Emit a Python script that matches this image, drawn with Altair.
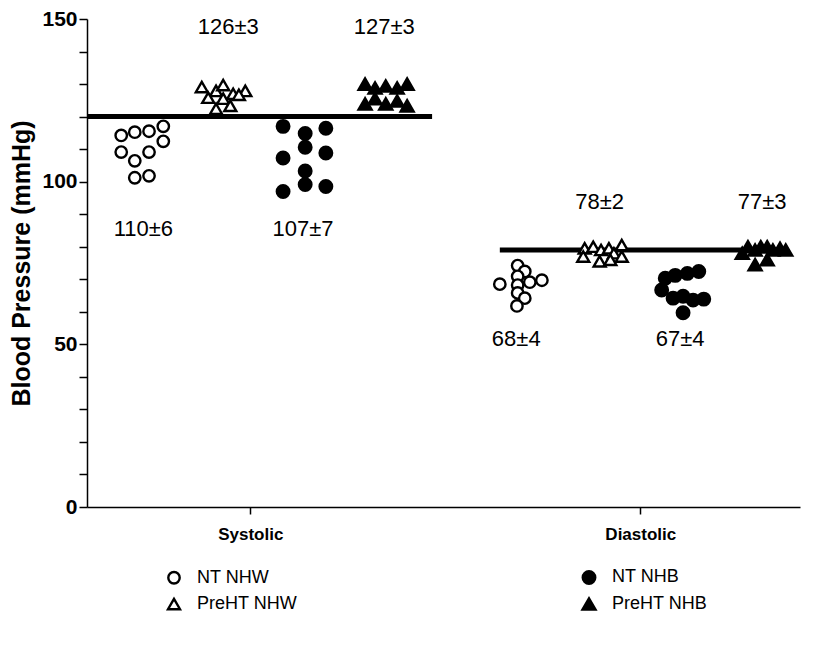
import altair as alt
import pandas as pd

FONT = "Liberation Sans"

# ---- data ----
groups = ["NT NHW", "PreHT NHW", "NT NHB", "PreHT NHB"]

# Systolic
sys_nt_nhw_x = [0.48, 0.67, 0.87, 1.07, 0.48, 0.67, 0.87, 1.07, 0.67, 0.87]
sys_nt_nhw_y = [114.2, 115.2, 115.5, 117.0, 109.1, 106.4, 109.1, 112.4, 101.2, 101.8]
sys_pre_nhw_x = [1.61, 1.81, 1.91, 2.05, 2.22, 1.70, 1.91, 2.13, 2.01, 1.81]
sys_pre_nhw_y = [129.1, 127.9, 129.7, 127.0, 127.9, 125.8, 125.5, 126.7, 123.3, 122.4]
sys_nt_nhb_x = [2.75, 3.06, 3.35, 3.06, 3.35, 2.75, 3.06, 2.75, 3.06, 3.35]
sys_nt_nhb_y = [117.0, 114.8, 116.4, 110.6, 108.8, 107.3, 103.3, 97.0, 99.1, 98.5]
sys_pre_nhb_x = [3.90, 4.04, 4.19, 4.35, 4.49, 3.90, 4.04, 4.19, 4.35, 4.49]
sys_pre_nhb_y = [130.0, 128.8, 129.4, 128.8, 130.0, 123.9, 125.5, 123.9, 124.8, 123.3]

# Diastolic
dia_nt_nhw_x = [6.04, 6.14, 6.04, 5.79, 6.04, 6.21, 6.38, 6.04, 6.14, 6.03]
dia_nt_nhw_y = [74.2, 72.4, 70.9, 68.5, 68.2, 69.1, 69.7, 65.8, 64.2, 61.8]
dia_pre_nhw_x = [6.98, 7.10, 7.21, 7.32, 7.39, 7.50, 7.19, 7.34, 7.50, 6.96]
dia_pre_nhw_y = [79.5, 80.0, 79.0, 79.5, 78.0, 80.5, 75.5, 76.0, 77.0, 77.0]
dia_nt_nhb_x = [8.11, 8.25, 8.42, 8.58, 8.06, 8.22, 8.36, 8.50, 8.65, 8.36]
dia_nt_nhb_y = [70.3, 71.2, 71.8, 72.4, 66.7, 64.2, 64.8, 63.6, 63.9, 59.7]
dia_pre_nhb_x = [9.19, 9.27, 9.37, 9.45, 9.54, 9.62, 9.72, 9.80, 9.37, 9.54]
dia_pre_nhb_y = [78.0, 80.0, 79.0, 80.0, 80.0, 79.0, 79.5, 79.0, 74.5, 76.0]

# mean +- sd labels
label_text = ["110±6", "126±3", "107±7", "127±3", "68±4", "78±2", "67±4", "77±3"]
label_x = [0.79, 1.98, 3.03, 4.17, 6.02, 7.19, 8.32, 9.47]
label_y = [85.5, 147.5, 85.5, 147.5, 51.5, 93.9, 51.5, 93.9]

# reference lines
ref_x = [0.0, 5.79]
ref_x2 = [4.84, 9.79]
ref_y = [120, 79]

# category axis
cat_names = ["Systolic", "Diastolic"]
cat_pos = [2.29, 7.76]

# ---- build tables ----
rows = []
for g, xs, ys in [
    ("NT NHW", sys_nt_nhw_x, sys_nt_nhw_y),
    ("PreHT NHW", sys_pre_nhw_x, sys_pre_nhw_y),
    ("NT NHB", sys_nt_nhb_x, sys_nt_nhb_y),
    ("PreHT NHB", sys_pre_nhb_x, sys_pre_nhb_y),
    ("NT NHW", dia_nt_nhw_x, dia_nt_nhw_y),
    ("PreHT NHW", dia_pre_nhw_x, dia_pre_nhw_y),
    ("NT NHB", dia_nt_nhb_x, dia_nt_nhb_y),
    ("PreHT NHB", dia_pre_nhb_x, dia_pre_nhb_y),
]:
    for xv, yv in zip(xs, ys):
        rows.append({"group": g, "x": xv, "bp": yv})
pts = pd.DataFrame(rows)
labels = pd.DataFrame({"text": label_text, "x": label_x, "bp": label_y})
refs = pd.DataFrame({"x": ref_x, "x2": ref_x2, "bp": ref_y})

xscale = alt.Scale(domain=[0, 10], nice=False, zero=False)
yscale = alt.Scale(domain=[0, 150], nice=False)

legend_order = ["NT NHW", "PreHT NHW", "NT NHB", "PreHT NHB"]
shape_range = ["circle", "triangle-up", "circle", "triangle-up"]
fill_range = ["white", "white", "black", "black"]
size_range = [130, 170, 130, 170]

x_axis = alt.Axis(
    values=cat_pos,
    labelExpr="datum.value < 5 ? 'Systolic' : 'Diastolic'",
    title=None, grid=False, domainColor="black", domainWidth=1.5,
    tickColor="black", tickSize=7, tickWidth=1.5,
    labelFont=FONT, labelFontSize=17, labelFontWeight="bold", labelColor="black",
    labelPadding=12, labelOverlap=False,
)
y_axis = alt.Axis(
    values=list(range(0, 151, 10)),
    labelExpr="datum.value % 50 == 0 ? datum.label : ''",
    title="Blood Pressure (mmHg)", grid=False,
    domainColor="black", domainWidth=1.5, tickColor="black", tickSize=8, tickWidth=1.5,
    labelFont=FONT, labelFontSize=21, labelFontWeight="bold", labelColor="black",
    labelPadding=2, labelOverlap=False, labelFlush=False,
    titleFont=FONT, titleFontSize=25, titleFontWeight="bold", titleColor="black",
    titlePadding=7,
)

leg = alt.Legend(
    title=None, orient="none", legendX=78, legendY=549,
    columns=2, columnPadding=280, rowPadding=4,
    labelFont=FONT, labelFontSize=18, labelColor="black",
    symbolStrokeWidth=2.4, symbolStrokeColor="black",
    labelOffset=14, padding=0,
)

rules = alt.Chart(refs).mark_rule(strokeWidth=5, color="black").encode(
    x=alt.X("x:Q", scale=xscale, axis=x_axis), x2="x2:Q",
    y=alt.Y("bp:Q", scale=yscale, axis=y_axis),
)

points = alt.Chart(pts).mark_point(strokeWidth=2.4, opacity=1, filled=False).encode(
    x=alt.X("x:Q", scale=xscale, axis=x_axis),
    y=alt.Y("bp:Q", scale=yscale, axis=y_axis),
    shape=alt.Shape("group:N", scale=alt.Scale(domain=legend_order, range=shape_range), legend=leg),
    fill=alt.Fill("group:N", scale=alt.Scale(domain=legend_order, range=fill_range), legend=leg),
    stroke=alt.Stroke("group:N", scale=alt.Scale(domain=legend_order, range=["black"] * 4), legend=leg),
    size=alt.Size("group:N", scale=alt.Scale(domain=legend_order, range=size_range), legend=leg),
)

texts = alt.Chart(labels).mark_text(font=FONT, fontSize=22, color="black").encode(
    x=alt.X("x:Q", scale=xscale, axis=x_axis),
    y=alt.Y("bp:Q", scale=yscale, axis=y_axis),
    text="text:N",
)

chart = alt.layer(rules, points, texts).properties(
    width=713, height=488,
    autosize=alt.AutoSizeParams(type="none"),
    padding={"left": 79, "top": 11, "right": 10, "bottom": 125},
).configure_view(stroke=None)

chart.save("out.html", embed_options={"renderer": "svg", "actions": False})
